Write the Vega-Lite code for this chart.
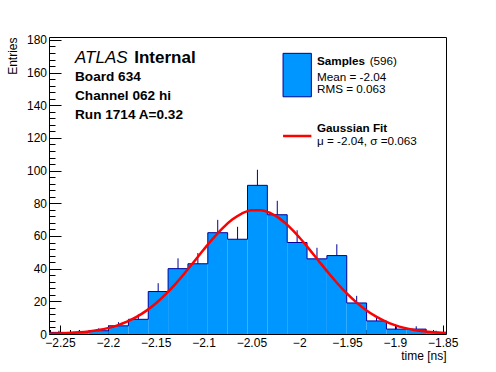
{
  "$schema": "https://vega.github.io/schema/vega-lite/v6.json",
  "autosize": {"type": "none"},
  "padding": {"left": 49, "top": 37, "right": 50, "bottom": 38},
  "width": 397,
  "height": 297,
  "background": "white",
  "config": {
    "view": {"stroke": "black", "strokeWidth": 1},
    "font": "Liberation Sans"
  },
  "resolve": {"axis": {"x": "independent", "y": "independent"}},
  "datasets": {
    "bins": [
      {"t0": -2.2615, "t1": -2.24076, "n": 1, "hi": 2},
      {"t0": -2.24076, "t1": -2.22001, "n": 1, "hi": 2},
      {"t0": -2.22001, "t1": -2.19927, "n": 2, "hi": 3.41},
      {"t0": -2.19927, "t1": -2.17852, "n": 5, "hi": 7.24},
      {"t0": -2.17852, "t1": -2.15778, "n": 9, "hi": 12},
      {"t0": -2.15778, "t1": -2.13703, "n": 26, "hi": 31.1},
      {"t0": -2.13703, "t1": -2.11629, "n": 40, "hi": 46.32},
      {"t0": -2.11629, "t1": -2.09554, "n": 43, "hi": 49.56},
      {"t0": -2.09554, "t1": -2.0748, "n": 62, "hi": 69.87},
      {"t0": -2.0748, "t1": -2.05405, "n": 58, "hi": 65.62},
      {"t0": -2.05405, "t1": -2.03331, "n": 91, "hi": 100.54},
      {"t0": -2.03331, "t1": -2.01256, "n": 73, "hi": 81.54},
      {"t0": -2.01256, "t1": -1.99182, "n": 56, "hi": 63.48},
      {"t0": -1.99182, "t1": -1.97107, "n": 46, "hi": 52.78},
      {"t0": -1.97107, "t1": -1.95033, "n": 48, "hi": 54.93},
      {"t0": -1.95033, "t1": -1.92958, "n": 19, "hi": 23.36},
      {"t0": -1.92958, "t1": -1.90884, "n": 8, "hi": 10.83},
      {"t0": -1.90884, "t1": -1.88809, "n": 3, "hi": 4.73},
      {"t0": -1.88809, "t1": -1.86735, "n": 3, "hi": 4.73},
      {"t0": -1.86735, "t1": -1.8466, "n": 1, "hi": 2}
    ],
    "fit": [
      {"t": -2.2615, "g": 0.2}, {"t": -2.25, "g": 0.37}, {"t": -2.24, "g": 0.62}, {"t": -2.23, "g": 1.0},
      {"t": -2.22, "g": 1.57}, {"t": -2.21, "g": 2.41}, {"t": -2.2, "g": 3.61}, {"t": -2.19, "g": 5.28},
      {"t": -2.18, "g": 7.52}, {"t": -2.17, "g": 10.45}, {"t": -2.16, "g": 14.15}, {"t": -2.15, "g": 18.7},
      {"t": -2.14, "g": 24.09}, {"t": -2.13, "g": 30.26}, {"t": -2.12, "g": 37.07}, {"t": -2.11, "g": 44.28},
      {"t": -2.1, "g": 51.56}, {"t": -2.09, "g": 58.55}, {"t": -2.08, "g": 64.84}, {"t": -2.07, "g": 70.03},
      {"t": -2.06, "g": 73.74}, {"t": -2.05, "g": 75.71}, {"t": -2.04, "g": 75.81}, {"t": -2.03, "g": 74.01},
      {"t": -2.02, "g": 70.47}, {"t": -2.01, "g": 65.42}, {"t": -2.0, "g": 59.23}, {"t": -1.99, "g": 52.28},
      {"t": -1.98, "g": 45.0}, {"t": -1.97, "g": 37.77}, {"t": -1.96, "g": 30.92}, {"t": -1.95, "g": 24.68},
      {"t": -1.94, "g": 19.21}, {"t": -1.93, "g": 14.58}, {"t": -1.92, "g": 10.79}, {"t": -1.91, "g": 7.78},
      {"t": -1.9, "g": 5.47}, {"t": -1.89, "g": 3.76}, {"t": -1.88, "g": 2.51}, {"t": -1.87, "g": 1.64},
      {"t": -1.86, "g": 1.04}, {"t": -1.85, "g": 0.65}, {"t": -1.8466, "g": 0.56}
    ],
    "one": [{}]
  },
  "layer": [
    {
      "data": {"name": "bins"},
      "mark": {"type": "rect", "fill": "#0096ff", "strokeWidth": 0},
      "encoding": {
        "x": {
          "field": "t0", "type": "quantitative",
          "scale": {"domain": [-2.2615, -1.8466], "nice": false, "zero": false},
          "title": "time [ns]",
          "axis": {
            "values": [-2.26, -2.25, -2.24, -2.23, -2.22, -2.21, -2.2, -2.19, -2.18, -2.17, -2.16, -2.15, -2.14, -2.13, -2.12, -2.11, -2.1, -2.09, -2.08, -2.07, -2.06, -2.05, -2.04, -2.03, -2.02, -2.01, -2.0, -1.99, -1.98, -1.97, -1.96, -1.95, -1.94, -1.93, -1.92, -1.91, -1.9, -1.89, -1.88, -1.87, -1.86, -1.85],
            "labelExpr": "abs(datum.value*20 - round(datum.value*20)) < 0.001 ? format(datum.value, '~g') : ''",
            "tickSize": {"condition": {"test": "abs(datum.value*20 - round(datum.value*20)) < 0.001", "value": -9}, "value": -4.5},
            "tickColor": "black",
            "domain": false,
            "grid": false,
            "labelFont": "Liberation Sans",
            "labelFontSize": 12,
            "labelColor": "black",
            "labelOverlap": false,
            "labelFlush": false,
            "labelBound": false,
            "labelPadding": 12,
            "titleFont": "Liberation Sans",
            "titleFontSize": 12,
            "titleFontWeight": "normal",
            "titleColor": "black",
            "titleAnchor": "end",
            "titleAlign": "right",
            "titleX": 397,
            "titleY": 25,
            "titleBaseline": "alphabetic"
          }
        },
        "x2": {"field": "t1"},
        "y": {
          "field": "n", "type": "quantitative",
          "scale": {"domain": [0, 181.8], "nice": false},
          "title": "Entries",
          "axis": {
            "values": [0, 4, 8, 12, 16, 20, 24, 28, 32, 36, 40, 44, 48, 52, 56, 60, 64, 68, 72, 76, 80, 84, 88, 92, 96, 100, 104, 108, 112, 116, 120, 124, 128, 132, 136, 140, 144, 148, 152, 156, 160, 164, 168, 172, 176, 180],
            "labelExpr": "datum.value % 20 == 0 ? datum.label : ''",
            "tickSize": {"condition": {"test": "datum.value % 20 == 0", "value": -12}, "value": -6},
            "tickColor": "black",
            "domain": false,
            "grid": false,
            "labelFont": "Liberation Sans",
            "labelFontSize": 12,
            "labelColor": "black",
            "labelOverlap": false,
            "labelFlush": false,
            "labelBound": false,
            "labelPadding": 14.5,
            "titleFont": "Liberation Sans",
            "titleFontSize": 12,
            "titleFontWeight": "normal",
            "titleColor": "black",
            "titleAngle": 270,
            "titleAlign": "right",
            "titleBaseline": "middle",
            "titleX": -37,
            "titleY": 0
          }
        },
        "y2": {"datum": 0}
      }
    },
    {
      "data": {"name": "bins"},
      "mark": {"type": "rule", "color": "#000099", "strokeWidth": 1},
      "encoding": {"x": {"field": "t0", "type": "quantitative", "axis": null}, "x2": {"field": "t1"}, "y": {"field": "n", "type": "quantitative", "axis": null}}
    },
    {
      "data": {"name": "bins"},
      "transform": [
        {"window": [{"op": "lead", "field": "n", "as": "nn"}], "sort": [{"field": "t0"}]},
        {"calculate": "datum.nn == null ? 0 : datum.nn", "as": "n2"}
      ],
      "mark": {"type": "rule", "color": "#000099", "strokeWidth": 1},
      "encoding": {"x": {"field": "t1", "type": "quantitative", "axis": null}, "y": {"field": "n", "type": "quantitative", "axis": null}, "y2": {"field": "n2"}}
    },
    {
      "data": {"name": "bins"},
      "transform": [{"calculate": "(datum.t0 + datum.t1) / 2", "as": "tc"}],
      "mark": {"type": "rule", "color": "#000099", "strokeWidth": 1},
      "encoding": {"x": {"field": "tc", "type": "quantitative", "axis": null}, "y": {"field": "n", "type": "quantitative", "axis": null}, "y2": {"field": "hi"}}
    },
    {
      "data": {"name": "fit"},
      "mark": {"type": "line", "color": "#ff0000", "strokeWidth": 2.5, "interpolate": "monotone", "clip": true},
      "encoding": {"x": {"field": "t", "type": "quantitative", "axis": null}, "y": {"field": "g", "type": "quantitative", "axis": null}}
    },
    {
      "data": {"name": "one"},
      "mark": {"type": "rect", "fill": "#0096ff", "stroke": "#000099", "strokeWidth": 1},
      "encoding": {"x": {"datum": -2.0169, "axis": null}, "x2": {"datum": -1.9873}, "y": {"datum": 171.8, "axis": null}, "y2": {"datum": 145.2}}
    },
    {
      "data": {"name": "one"},
      "mark": {"type": "rule", "color": "#ff0000", "strokeWidth": 2.5},
      "encoding": {"x": {"datum": -2.0169, "axis": null}, "x2": {"datum": -1.9873}, "y": {"datum": 121.2, "axis": null}}
    },
    {
      "data": {"name": "one"},
      "mark": {"type": "text", "text": "ATLAS", "font": "Liberation Sans", "fontStyle": "italic", "fontSize": 17, "align": "left", "baseline": "alphabetic", "color": "black"},
      "encoding": {"x": {"datum": -2.2343, "axis": null}, "y": {"datum": 165.7, "axis": null}}
    },
    {
      "data": {"name": "one"},
      "mark": {"type": "text", "text": "Internal", "font": "Liberation Sans", "fontWeight": "bold", "fontSize": 17, "align": "left", "baseline": "alphabetic", "color": "black"},
      "encoding": {"x": {"datum": -2.1724, "axis": null}, "y": {"datum": 165.7, "axis": null}}
    },
    {
      "data": {"name": "one"},
      "mark": {"type": "text", "text": "Board 634", "font": "Liberation Sans", "fontWeight": "bold", "fontSize": 13.6, "align": "left", "baseline": "alphabetic", "color": "black"},
      "encoding": {"x": {"datum": -2.2343, "axis": null}, "y": {"datum": 155.0, "axis": null}}
    },
    {
      "data": {"name": "one"},
      "mark": {"type": "text", "text": "Channel 062 hi", "font": "Liberation Sans", "fontWeight": "bold", "fontSize": 13.6, "align": "left", "baseline": "alphabetic", "color": "black"},
      "encoding": {"x": {"datum": -2.2343, "axis": null}, "y": {"datum": 143.2, "axis": null}}
    },
    {
      "data": {"name": "one"},
      "mark": {"type": "text", "text": "Run 1714 A=0.32", "font": "Liberation Sans", "fontWeight": "bold", "fontSize": 13.6, "align": "left", "baseline": "alphabetic", "color": "black"},
      "encoding": {"x": {"datum": -2.2343, "axis": null}, "y": {"datum": 131.6, "axis": null}}
    },
    {
      "data": {"name": "one"},
      "mark": {"type": "text", "text": "Samples", "font": "Liberation Sans", "fontWeight": "bold", "fontSize": 11.7, "align": "left", "baseline": "alphabetic", "color": "black"},
      "encoding": {"x": {"datum": -1.9814, "axis": null}, "y": {"datum": 164.6, "axis": null}}
    },
    {
      "data": {"name": "one"},
      "mark": {"type": "text", "text": "(596)", "font": "Liberation Sans", "fontSize": 11.7, "align": "left", "baseline": "alphabetic", "color": "black"},
      "encoding": {"x": {"datum": -1.9264, "axis": null}, "y": {"datum": 164.6, "axis": null}}
    },
    {
      "data": {"name": "one"},
      "mark": {"type": "text", "text": "Mean = -2.04", "font": "Liberation Sans", "fontSize": 11.7, "align": "left", "baseline": "alphabetic", "color": "black"},
      "encoding": {"x": {"datum": -1.9814, "axis": null}, "y": {"datum": 155.0, "axis": null}}
    },
    {
      "data": {"name": "one"},
      "mark": {"type": "text", "text": "RMS = 0.063", "font": "Liberation Sans", "fontSize": 11.7, "align": "left", "baseline": "alphabetic", "color": "black"},
      "encoding": {"x": {"datum": -1.9814, "axis": null}, "y": {"datum": 147.3, "axis": null}}
    },
    {
      "data": {"name": "one"},
      "mark": {"type": "text", "text": "Gaussian Fit", "font": "Liberation Sans", "fontWeight": "bold", "fontSize": 11.7, "align": "left", "baseline": "alphabetic", "color": "black"},
      "encoding": {"x": {"datum": -1.9814, "axis": null}, "y": {"datum": 123.4, "axis": null}}
    },
    {
      "data": {"name": "one"},
      "mark": {"type": "text", "text": "μ = -2.04, σ =0.063", "font": "Liberation Sans", "fontSize": 11.7, "align": "left", "baseline": "alphabetic", "color": "black"},
      "encoding": {"x": {"datum": -1.9814, "axis": null}, "y": {"datum": 115.7, "axis": null}}
    }
  ]
}
